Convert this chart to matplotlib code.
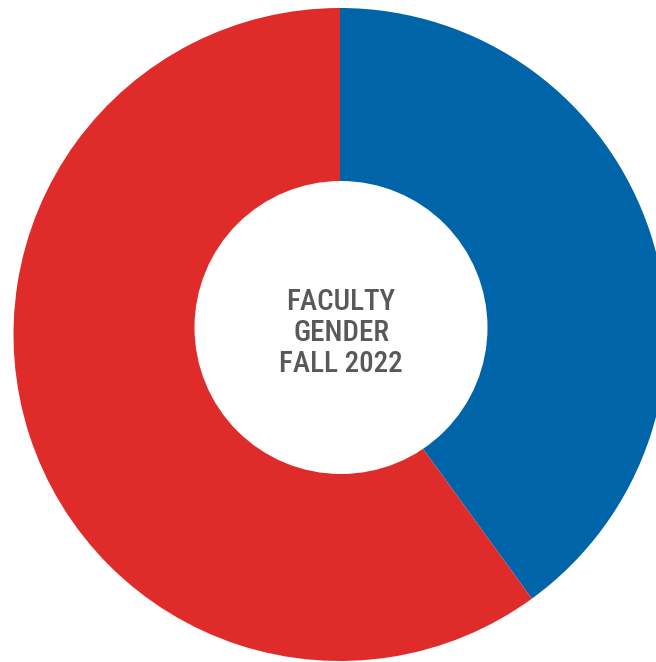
import matplotlib
matplotlib.use("Agg")
import matplotlib.pyplot as plt
from matplotlib.patches import Circle

labels = ["Male", "Female"]
values = [40, 60]
colors = ["#0064A8", "#E02B2B"]
center_text = "FACULTY\nGENDER\nFALL 2022"

W, H = 656, 662
cx, cy, R = 340, 334.5, 326.5        # outer ring centre / radius (pixels)
hx, hy, hr = 341, 327.5, 146.5       # hole centre / radius (pixels)

fig = plt.figure(figsize=(6.56, 6.62), dpi=100)
ax = fig.add_axes([(cx - R) / W, (H - cy - R) / H, 2 * R / W, 2 * R / H])
ax.pie(values, colors=colors, startangle=90, counterclock=False,
       radius=1.0, wedgeprops=dict(edgecolor="none"))
ax.add_patch(Circle(((hx - cx) / R, -(hy - cy) / R), hr / R,
                    facecolor="white", edgecolor="none", zorder=5))
ax.set_xlim(-1, 1)
ax.set_ylim(-1, 1)
ax.set_aspect("auto")
ax.axis("off")
ax.text((hx - cx) / R, -(333 - cy) / R, center_text, ha="center", va="center",
        fontsize=21, family=["Roboto Condensed", "DejaVu Sans"], weight="medium",
        color="#58595B", linespacing=1.12, zorder=6)
fig.savefig("out.png", dpi=100)
